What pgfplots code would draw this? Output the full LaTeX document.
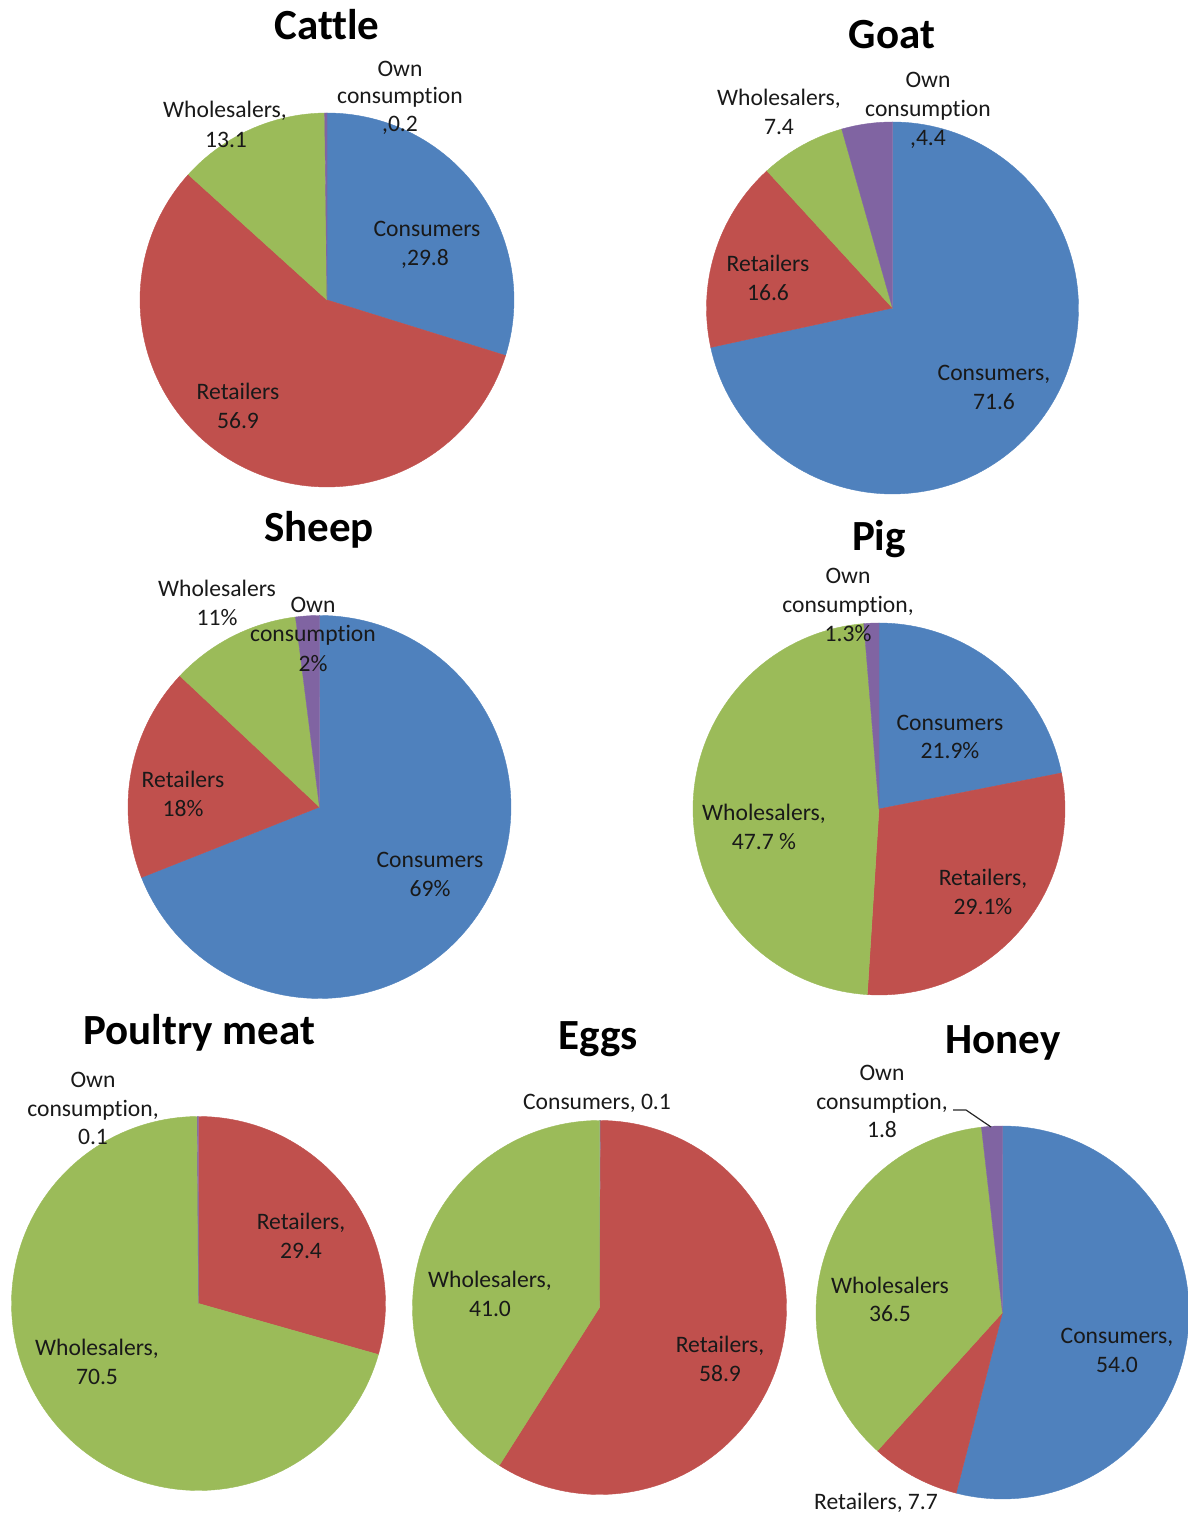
\documentclass[border=0pt]{standalone}
\usepackage{fontspec}
\setmainfont{Carlito}[Ligatures={NoCommon}]
\usepackage{pgfplots}
\pgfplotsset{compat=1.18}
\usepgfplotslibrary{polar}
\definecolor{cblue}{HTML}{4F81BD}
\definecolor{cred}{HTML}{C0504D}
\definecolor{cgreen}{HTML}{9BBB59}
\definecolor{cpurple}{HTML}{8064A2}
\newcommand{\lbfont}{\fontsize{11.8}{13}\selectfont}
\newcommand{\ttfontb}{\fontsize{21.5}{24}\selectfont\bfseries}
\newcommand{\lab}[3]{\node[anchor=base, inner sep=0pt, font=\lbfont, text=black!90] at ({#1*0.5pt},{(1515-#2)*0.5pt}) {#3};}
\newcommand{\ttl}[3]{\node[anchor=base, inner sep=0pt, font=\ttfontb] at ({#1*0.5pt},{(1515-#2)*0.5pt}) {#3};}
% #1 cx px, #2 cy px, #3 radius px, #4 list value/colour (clockwise from 12 o'clock)
\newcommand{\pie}[4]{%
\begin{polaraxis}[at={({#1*0.5pt},{(1515-#2)*0.5pt})}, anchor=center, hide axis,
  scale only axis, width=#3pt, height=#3pt, xmin=0, xmax=360, ymin=0, ymax=1, clip=false]
\gdef\cum{0}%
\foreach \v/\c in {#4} {%
  \pgfmathsetmacro{\a}{90-3.6*(\cum+\v)}%
  \pgfmathsetmacro{\b}{90-3.6*\cum}%
  \pgfmathtruncatemacro{\n}{max(3,1.8*\v+3)}%
  \pgfmathsetmacro{\newcum}{\cum+\v}%
  \xdef\cum{\newcum}%
  \edef\temp{\noexpand\addplot[fill=\c, draw=\c, line width=0.2pt, domain=\a:\b, samples=\n] {1} -- (axis cs:0,0) -- cycle;}\temp
}
\end{polaraxis}}
\begin{document}
\begin{tikzpicture}
\path[use as bounding box] (0,0) rectangle (594pt,757.5pt);
% Cattle
\pie{327}{300}{187}{29.8/cblue, 56.9/cred, 13.1/cgreen, 0.2/cpurple}
% Goat
\pie{892.5}{308}{186}{71.6/cblue, 16.6/cred, 7.4/cgreen, 4.4/cpurple}
% Sheep
\pie{319.5}{807}{191.5}{69/cblue, 18/cred, 11/cgreen, 2/cpurple}
% Pig
\pie{879}{809}{186}{21.9/cblue, 29.1/cred, 47.7/cgreen, 1.3/cpurple}
% Poultry meat
\pie{198.5}{1303.5}{187}{29.4/cred, 70.5/cgreen, 0.1/cpurple}
% Eggs
\pie{599.5}{1307.5}{187}{0.1/cblue, 58.9/cred, 41.0/cgreen}
% Honey
\pie{1002.5}{1312.5}{186.5}{54.0/cblue, 7.7/cred, 36.5/cgreen, 1.8/cpurple}

% Cattle labels
\ttl{327}{40}{Cattle}
\lab{400}{77}{Own}\lab{400}{104}{consumption}\lab{400}{132}{,0.2}
\lab{225}{118}{Wholesalers,}\lab{226}{148}{13.1}
\lab{427}{237}{Consumers}\lab{425}{266}{,29.8}
\lab{238}{400}{Retailers}\lab{238}{429}{56.9}
% Goat
\ttl{892}{49}{Goat}
\lab{779}{106}{Wholesalers,}\lab{779}{135}{7.4}
\lab{928}{88}{Own}\lab{928}{117}{consumption}\lab{928}{146}{,4.4}
\lab{768}{272}{Retailers}\lab{768}{301}{16.6}
\lab{994}{381}{Consumers,}\lab{994}{410}{71.6}
% Sheep
\ttl{319}{542}{Sheep}
\lab{217}{597}{Wholesalers}\lab{217}{626}{11\%}
\lab{313}{613}{Own}\lab{313}{642}{consumption}\lab{313}{672}{2\%}
\lab{183}{788}{Retailers}\lab{183}{817}{18\%}
\lab{430}{868}{Consumers}\lab{430}{897}{69\%}
% Pig
\ttl{879}{551}{Pig}
\lab{848}{584}{Own}\lab{848}{613}{consumption,}\lab{848}{642}{1.3\%}
\lab{950}{731}{Consumers}\lab{950}{759}{21.9\%}
\lab{764}{821}{Wholesalers,}\lab{764}{850}{47.7 \%}
\lab{983}{886}{Retailers,}\lab{983}{915}{29.1\%}
% Poultry meat
\ttl{199}{1045}{Poultry meat}
\lab{93}{1088}{Own}\lab{93}{1117}{consumption,}\lab{93}{1145}{0.1}
\lab{301}{1230}{Retailers,}\lab{301}{1259}{29.4}
\lab{97}{1356}{Wholesalers,}\lab{97}{1385}{70.5}
% Eggs
\ttl{598}{1050}{Eggs}
\lab{597}{1110}{Consumers, 0.1}
\lab{490}{1288}{Wholesalers,}\lab{490}{1317}{41.0}
\lab{720}{1353}{Retailers,}\lab{720}{1382}{58.9}
% Honey
\ttl{1003}{1054}{Honey}
\lab{882}{1081}{Own}\lab{882}{1110}{consumption,}\lab{882}{1138}{1.8}
\lab{890}{1294}{Wholesalers}\lab{890}{1322}{36.5}
\lab{1117}{1344}{Consumers,}\lab{1117}{1373}{54.0}
\lab{876}{1510}{Retailers, 7.7}
\draw[black!85, line width=0.6pt] ({953*0.5pt},{(1515-1110)*0.5pt}) -- ({966*0.5pt},{(1515-1110)*0.5pt}) -- ({991*0.5pt},{(1515-1127)*0.5pt});
\end{tikzpicture}
\end{document}
